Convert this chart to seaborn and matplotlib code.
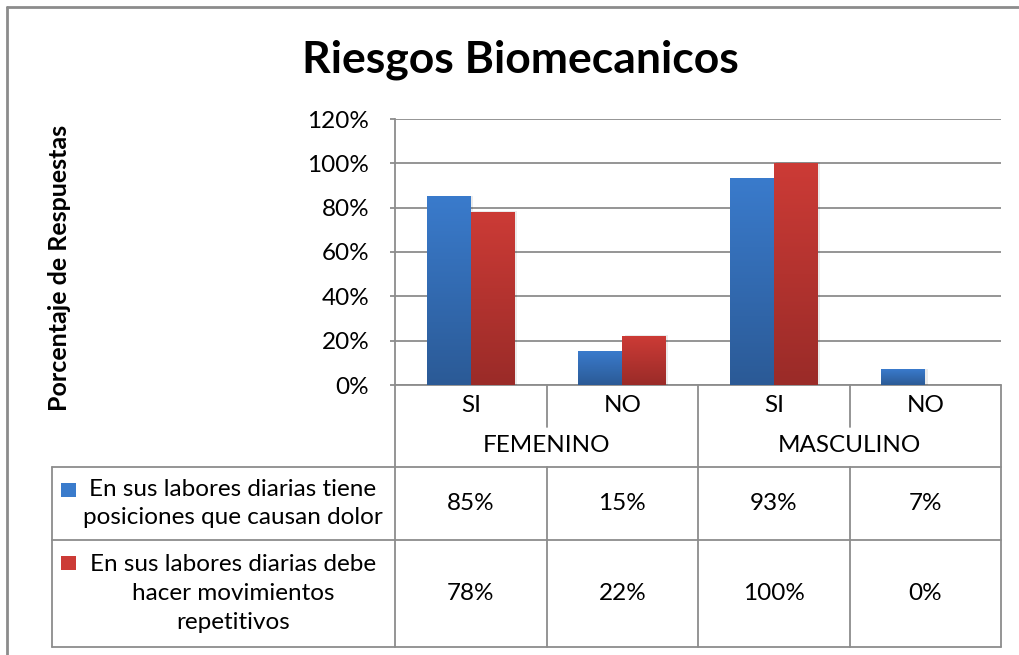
import numpy as np
import pandas as pd
import seaborn as sns
import matplotlib as mpl
mpl.use('Agg')
import matplotlib.pyplot as plt
from matplotlib.lines import Line2D
from matplotlib.patches import Rectangle
from matplotlib.transforms import blended_transform_factory
from matplotlib.colors import LinearSegmentedColormap

sns.set_theme(style='white')
plt.rcParams['font.family'] = ['Lato', 'DejaVu Sans']

# datos del grafico
titulo = 'Riesgos Biomecanicos'
eje_y = 'Porcentaje de Respuestas'
grupos = ['FEMENINO', 'MASCULINO']
respuestas = ['SI', 'NO']
series = ['En sus labores diarias tiene\nposiciones que causan dolor',
          'En sus labores diarias debe\nhacer movimientos\nrepetitivos']
valores_dolor = [85, 15, 93, 7]
valores_repetitivos = [78, 22, 100, 0]
yticks = [0, 20, 40, 60, 80, 100, 120]

W, H = 1019, 655
GRIS = '#8c8c8c'
FS = 17.5
colores = ['#3a7bcc', '#cc3b36']
oscuros = ['#2b5a96', '#9a2b28']

categorias = [g + '|' + r for g in grupos for r in respuestas]
df = pd.DataFrame({
    'categoria': categorias * 2,
    'serie': [series[0]] * 4 + [series[1]] * 4,
    'valor': valores_dolor + valores_repetitivos,
})

fig = plt.figure(figsize=(W / 100, H / 100), dpi=100)
fig.patch.set_facecolor('white')

# capa en pixeles para tabla y marco
capa = fig.add_axes([0, 0, 1, 1], zorder=0)
capa.set_xlim(0, W)
capa.set_ylim(H, 0)
capa.axis('off')

x0, x1, y0, y1 = 395, 1001, 119, 385
ax = fig.add_axes([x0 / W, 1 - y1 / H, (x1 - x0) / W, (y1 - y0) / H], zorder=2)
ax.patch.set_alpha(0)

sns.barplot(data=df, x='categoria', y='valor', hue='serie', order=categorias,
            hue_order=series, palette=colores, width=0.58, saturation=1,
            edgecolor='none', ax=ax, legend=False)

# degradado vertical en cada barra
for cont, c_top, c_bot in zip(ax.containers, colores, oscuros):
    cmap = LinearSegmentedColormap.from_list('g', [c_bot, c_top])
    for bar in cont:
        h = bar.get_height()
        if h <= 0:
            continue
        bx, bw = bar.get_x(), bar.get_width()
        sombra = Rectangle((bx + 0.015, 0), bw, h + 0.4, facecolor='black', alpha=0.08,
                           edgecolor='none', zorder=2)
        ax.add_patch(sombra)
        grad = np.linspace(0, 1, 256).reshape(-1, 1)
        ax.imshow(grad, cmap=cmap, origin='lower', aspect='auto',
                  extent=[bx, bx + bw, 0, h], zorder=3)

ax.set_xlim(-0.5, len(categorias) - 0.5)
ax.set_ylim(0, 120)
ax.set_yticks(yticks)
ax.set_yticklabels([f'{v}%' for v in yticks], fontsize=FS, color='black')
ax.set_xticks([])
ax.set_xlabel('')
ax.set_ylabel('')
ax.yaxis.grid(True, color=GRIS, linewidth=1.3, zorder=0)
ax.set_axisbelow(True)
ax.tick_params(axis='y', left=True, length=3.5, width=1.3, color=GRIS, pad=15)
for s in ['top', 'right', 'bottom']:
    ax.spines[s].set_visible(False)
ax.spines['left'].set_color(GRIS)
ax.spines['left'].set_linewidth(1.3)

# titulo y eje y
capa.text(520, 72, titulo, ha='center', va='baseline', fontsize=32,
          fontweight='bold', color='black')
capa.text(60, 268, eje_y, ha='center', va='center', rotation=90, fontsize=18,
          fontweight='bold', color='black')

# marco exterior
capa.add_line(Line2D([7, 7], [7, H], color=GRIS, lw=2))
capa.add_line(Line2D([7, W], [7, 7], color=GRIS, lw=2))

# tabla de datos
tr = blended_transform_factory(ax.transData, capa.transData)
n = len(categorias)
ys_fila1, ys_grupo, ys_leg1, ys_leg2, ys_fin = 385, 427, 467, 540, 647

def linea(xs, ys, transform=None):
    capa.add_line(Line2D(xs, ys, color=GRIS, lw=1.3,
                         transform=transform or capa.transData))

linea([-0.5, n - 0.5], [ys_fila1, ys_fila1], tr)
for y in [ys_leg1, ys_leg2, ys_fin]:
    linea([52, x1], [y, y])
linea([x0, x0], [ys_fila1, ys_fin])
linea([52, 52], [ys_leg1, ys_fin])
for i in range(1, n + 1):
    xb = i - 0.5
    if i % 2 == 0:
        linea([xb, xb], [ys_fila1, ys_fin], tr)
    else:
        linea([xb, xb], [ys_fila1, ys_grupo], tr)
        linea([xb, xb], [ys_leg1, ys_fin], tr)

for i, cat in enumerate(categorias):
    capa.text(i, 406, cat.split('|')[1], transform=tr, ha='center', va='center',
              fontsize=FS, color='black')
for j, g in enumerate(grupos):
    capa.text(2 * j + 0.5, 446, g, transform=tr, ha='center', va='center',
              fontsize=FS, color='black')

filas = [(valores_dolor, (ys_leg1 + ys_leg2) / 2), (valores_repetitivos, (ys_leg2 + ys_fin) / 2)]
for (vals, yc), nombre, c_top, ytop in zip(filas, series, colores, [ys_leg1, ys_leg2]):
    for i, v in enumerate(vals):
        capa.text(i, yc, f'{v}%', transform=tr, ha='center', va='center',
                  fontsize=FS, color='black')
    capa.add_patch(Rectangle((61, ytop + 16), 15, 14, facecolor=c_top,
                             edgecolor='none'))
    capa.text(233, yc, nombre, ha='center', va='center', multialignment='center',
              fontsize=FS, color='black', linespacing=1.45)

fig.savefig('out.png', dpi=100)
